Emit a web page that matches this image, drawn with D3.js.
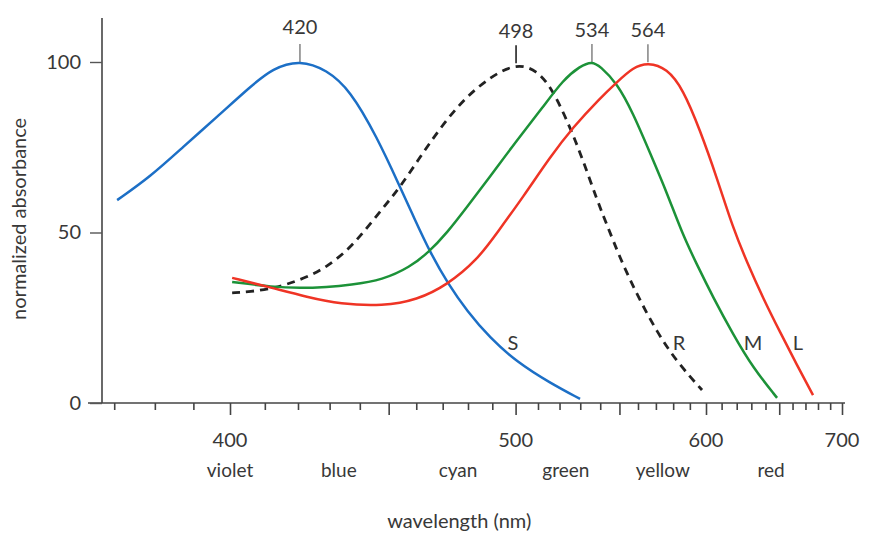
<!DOCTYPE html>
<html>
<head>
<meta charset="utf-8">
<script src="https://cdn.jsdelivr.net/npm/d3@7"></script>
<style>
  html, body { margin: 0; padding: 0; background: #fff; }
  svg { display: block; }
  text { font-family: Lato, "Open Sans", sans-serif; fill: #383838; }
</style>
</head>
<body>
<svg id="chart" width="869" height="533"></svg>
<script>
// ---------- data (wavelength in nm, normalized absorbance in %) ----------
const sWavelength = [370.7, 378.8, 387.3, 396.4, 405.7, 412.4, 420.6, 429.1, 436.7, 445.9, 454.1, 459.2, 465.1, 472.1, 479.6, 489.0, 500.6, 515.5, 529.9];
const sAbsorbance = [59.5, 66.3, 75.1, 83.9, 92.7, 98.2, 100.6, 97.7, 91.8, 78.0, 63.3, 54.3, 44.3, 34.9, 27.0, 19.1, 12.0, 5.9, 1.2];

const rWavelength = [400.6, 405.7, 412.4, 416.0, 422.8, 429.1, 436.0, 441.1, 448.0, 454.1, 461.4, 469.0, 478.0, 489.0, 500.2, 509.5, 516.9, 525.0, 531.3, 538.4, 543.5, 550.3, 559.5, 570.6, 582.3, 597.5];
const rAbsorbance = [32.3, 32.6, 33.7, 34.6, 36.9, 39.9, 44.9, 49.9, 57.2, 63.3, 72.1, 80.6, 88.9, 95.6, 99.6, 97.7, 91.8, 80.9, 71.3, 59.5, 52.2, 42.5, 31.7, 20.8, 12.0, 3.8];

const mWavelength = [400.6, 412.4, 420.6, 429.1, 436.7, 448.0, 457.7, 464.4, 471.7, 479.6, 489.0, 500.6, 512.3, 521.6, 529.9, 535.8, 539.9, 548.7, 557.3, 566.7, 576.4, 585.2, 594.4, 604.4, 617.5, 631.2, 648.4];
const mAbsorbance = [35.5, 34.0, 33.7, 34.0, 34.6, 36.1, 39.9, 44.0, 49.9, 57.5, 66.3, 77.1, 86.8, 94.7, 98.8, 100.2, 98.8, 93.8, 85.0, 73.3, 61.6, 49.9, 40.5, 31.1, 20.2, 10.3, 1.5];

const lWavelength = [400.6, 412.4, 422.8, 433.4, 448.0, 460.3, 471.7, 483.7, 492.0, 503.3, 515.5, 526.5, 539.9, 548.7, 557.3, 565.5, 576.4, 585.8, 596.2, 607.0, 617.5, 627.0, 638.2, 650.6, 663.4, 676.0];
const lAbsorbance = [36.7, 33.7, 31.1, 29.0, 28.4, 30.2, 34.6, 41.9, 49.9, 60.4, 72.1, 80.9, 89.4, 94.1, 98.4, 99.9, 98.1, 92.1, 80.1, 66.0, 51.3, 41.3, 30.8, 20.8, 11.1, 2.3];

const seriesNames = ["S", "R", "M", "L"];
const peakLabels = ["420", "498", "534", "564"];

const xTickValues = d3.range(370, 701, 10);
const xLabelValues = [400, 500, 600, 700];
const yTickValues = [0, 50, 100];

const colorNames = ["violet", "blue", "cyan", "green", "yellow", "red"];
const colorNameWavelengths = [400, 433, 476, 523, 574, 644];

const xTitle = "wavelength (nm)";
const yTitle = "normalized absorbance";

// ---------- styling ----------
const seriesColors = { S: "#1c6fc6", R: "#222222", M: "#1c9238", L: "#ef3425" };
const seriesLabelAnchors = { S: [513, 343], R: [679, 343], M: [753, 343], L: [798, 343] };

// ---------- scales ----------
const svg = d3.select("#chart");
// wavelength axis is linear in 1/lambda (frequency)
const x = d3.scalePow().exponent(-1).domain([400, 700]).range([230, 842]);
const y = d3.scaleLinear().domain([0, 100]).range([403, 62]);
const yAxisX = 102;

// ---------- axes ----------
svg.append("line")
  .attr("x1", yAxisX - 14).attr("x2", x(700) + 3)
  .attr("y1", y(0)).attr("y2", y(0))
  .attr("stroke", "#444").attr("stroke-width", 1.6);
svg.append("line")
  .attr("x1", yAxisX).attr("x2", yAxisX)
  .attr("y1", y(0)).attr("y2", 18)
  .attr("stroke", "#444").attr("stroke-width", 1.6);

const xAxis = svg.append("g")
  .attr("transform", `translate(0,${y(0)})`)
  .call(d3.axisBottom(x).tickValues(xTickValues).tickSize(7).tickFormat(""));
xAxis.select(".domain").remove();
xAxis.selectAll(".tick line")
  .attr("stroke", "#444").attr("stroke-width", 1.6)
  .attr("y2", d => (d % 50 === 0 ? 12 : 7));

svg.append("g").selectAll("text")
  .data(xLabelValues).join("text")
  .attr("x", d => x(d)).attr("y", 447)
  .attr("text-anchor", "middle").attr("font-size", 20)
  .text(d => d);

const yAxis = svg.append("g")
  .attr("transform", `translate(${yAxisX},0)`)
  .call(d3.axisLeft(y).tickValues(yTickValues).tickSize(12).tickPadding(9));
yAxis.select(".domain").remove();
yAxis.selectAll(".tick line").attr("stroke", "#555").attr("stroke-width", 1.4);
yAxis.selectAll(".tick text")
  .attr("font-size", 20).attr("fill", "#383838")
  .style("font-family", "Lato, 'Open Sans', sans-serif");

svg.append("g").selectAll("text")
  .data(colorNames).join("text")
  .attr("x", (d, i) => x(colorNameWavelengths[i])).attr("y", 477)
  .attr("text-anchor", "middle").attr("font-size", 19)
  .text(d => d);

svg.append("text")
  .attr("x", x(476.5)).attr("y", 528)
  .attr("text-anchor", "middle").attr("font-size", 20)
  .text(xTitle);

svg.append("text")
  .attr("transform", `translate(26,${y(54)}) rotate(-90)`)
  .attr("text-anchor", "middle").attr("font-size", 20)
  .text(yTitle);

// ---------- curves ----------
const series = [
  { name: "S", w: sWavelength, a: sAbsorbance },
  { name: "R", w: rWavelength, a: rAbsorbance },
  { name: "M", w: mWavelength, a: mAbsorbance },
  { name: "L", w: lWavelength, a: lAbsorbance }
];
series.forEach(s => { s.points = s.w.map((w, i) => ({ w, a: s.a[i] })); });

const line = d3.line().x(d => x(d.w)).y(d => y(d.a)).curve(d3.curveBasis);

// peak markers
series.forEach((s, i) => {
  const peak = s.points.reduce((m, p) => (p.a > m.a ? p : m));
  const px = x(peak.w), py = y(Math.min(peak.a, 100));
  svg.append("line")
    .attr("x1", px).attr("x2", px).attr("y1", py).attr("y2", py - 18)
    .attr("stroke", s.name === "R" ? "#222" : "#8a8a8a").attr("stroke-width", 1.6);
  svg.append("text")
    .attr("x", px).attr("y", py - (s.name === "S" ? 28 : 25))
    .attr("text-anchor", "middle").attr("font-size", 20)
    .text(peakLabels[i]);
});

svg.append("g").selectAll("path")
  .data(series).join("path")
  .attr("d", d => line(d.points))
  .attr("fill", "none")
  .attr("stroke", d => seriesColors[d.name])
  .attr("stroke-width", d => (d.name === "R" ? 2.8 : 2.5))
  .attr("stroke-dasharray", d => (d.name === "R" ? "8,6" : null))
  .attr("stroke-linecap", "butt");

svg.append("g").selectAll("text")
  .data(seriesNames).join("text")
  .attr("x", d => seriesLabelAnchors[d][0]).attr("y", d => seriesLabelAnchors[d][1] + 7)
  .attr("text-anchor", "middle").attr("font-size", 20)
  .text(d => d);
</script>
</body>
</html>
